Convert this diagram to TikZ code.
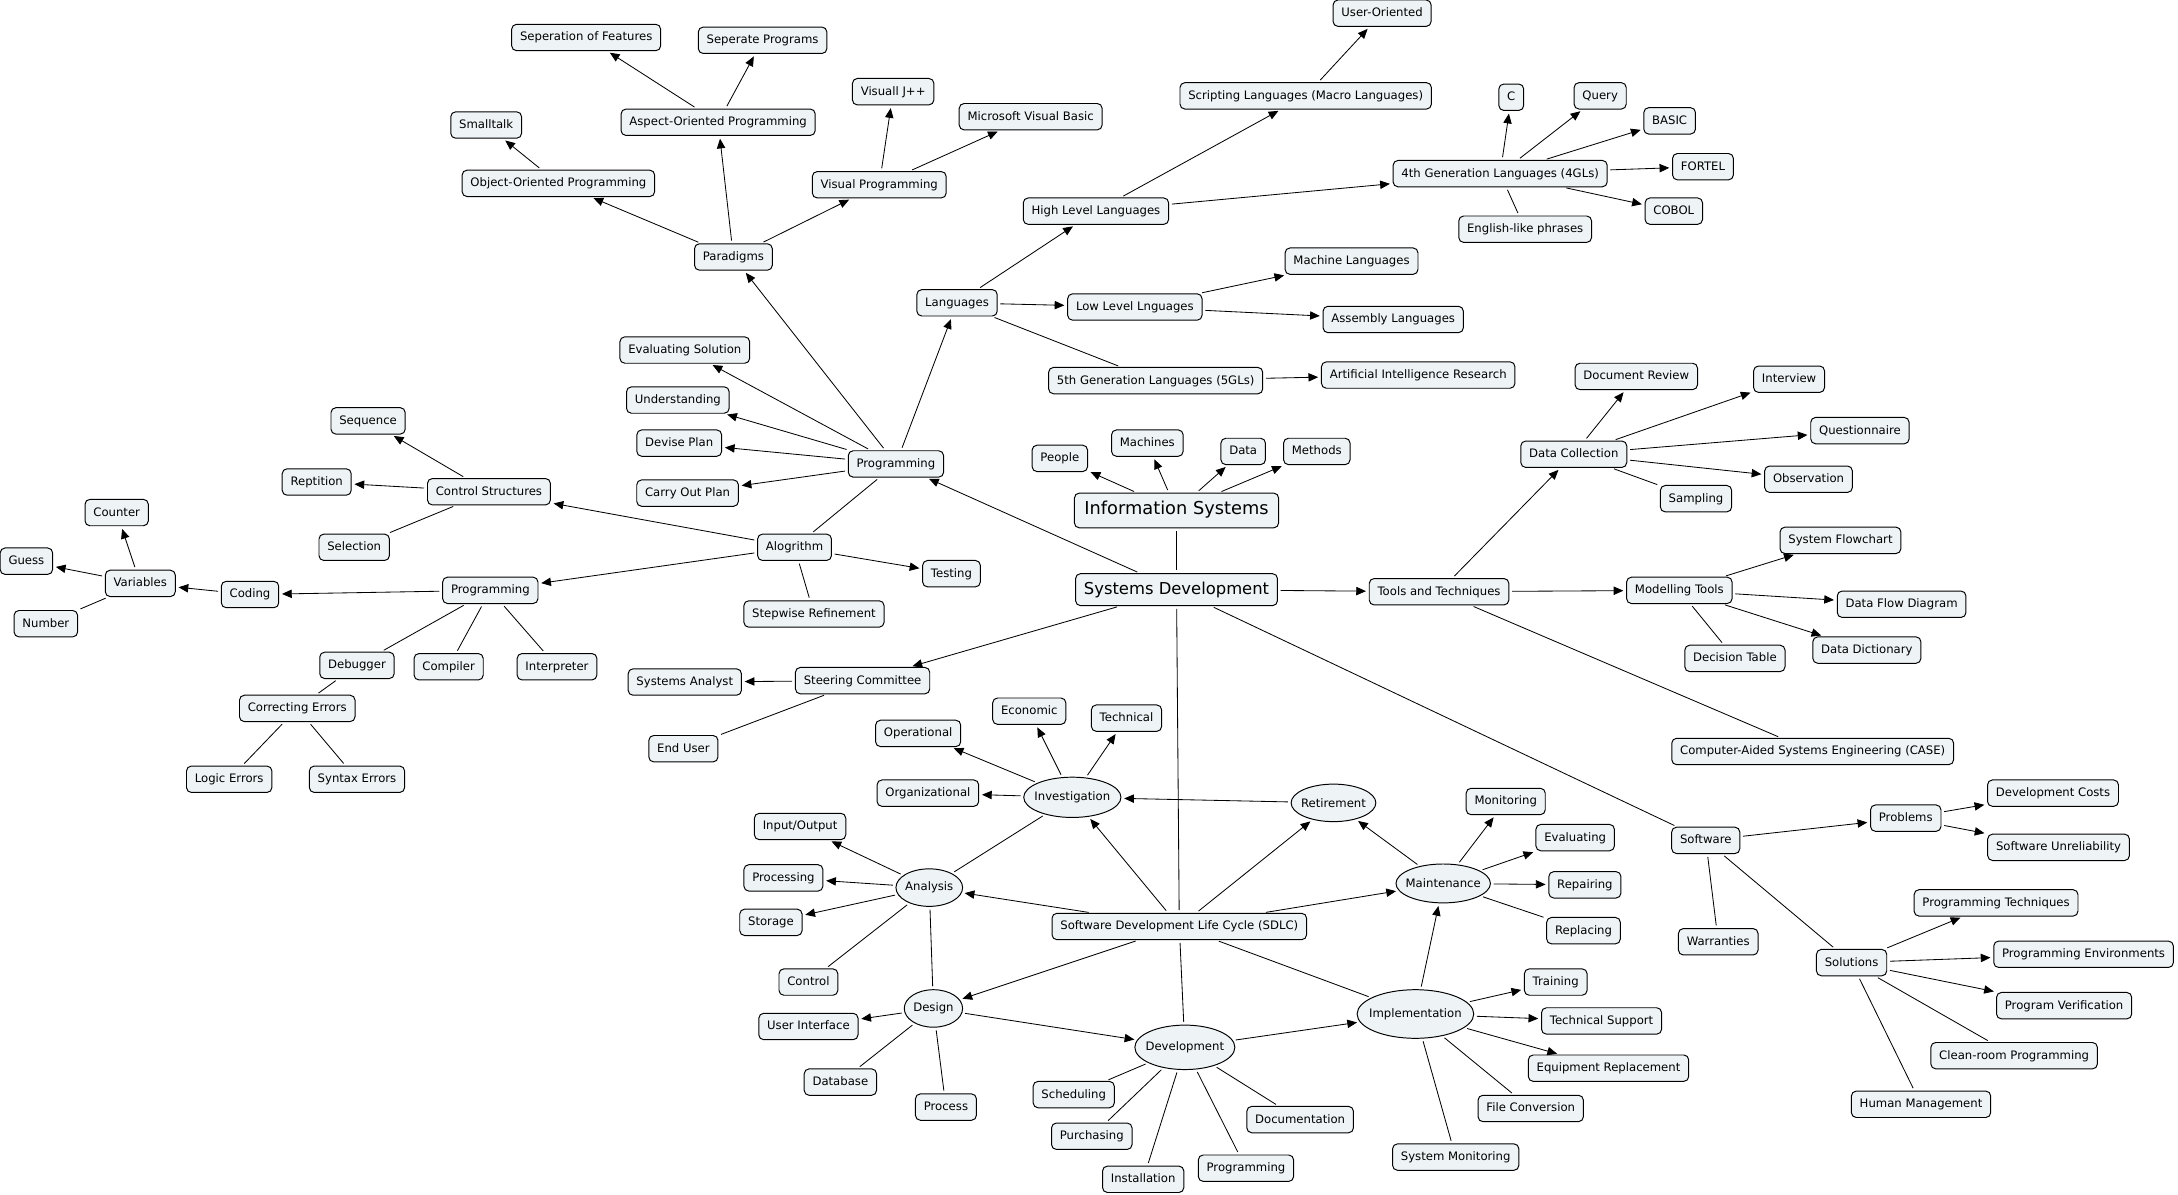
\documentclass[tikz,border=0pt]{standalone}
\usepackage{fontspec}
\setmainfont{DejaVu Sans}
\usetikzlibrary{arrows.meta,shapes.geometric}
\definecolor{boxfill}{RGB}{238,243,246}
\begin{document}
\begin{tikzpicture}[x=1pt,y=-1pt,
  box/.style={draw=black, line width=0.7pt, rounded corners=3.5pt, fill=boxfill, font=\fontsize{8.4}{10}\selectfont, inner xsep=6pt, inner ysep=0pt, text height=7pt, text depth=2pt, minimum height=19pt},
  big/.style={box, font=\fontsize{11.8}{14}\selectfont, minimum height=24pt, text height=9.5pt, text depth=3pt, inner xsep=6pt},
  oval/.style={draw=black, line width=0.7pt, ellipse, fill=boxfill, inner sep=0pt, font=\fontsize{8.4}{10}\selectfont},
  arr/.style={draw, line width=0.6pt, -{Triangle[length=7pt,width=6pt]}, shorten <=2pt, shorten >=2pt},
  ln/.style={draw, line width=0.6pt, shorten <=2pt, shorten >=2pt}]
\useasboundingbox (0,0) rectangle (1568,860);
% ---------- central ----------
\node[big, font=\fontsize{12.8}{15}\selectfont, minimum width=147pt, minimum height=25pt] (isys) at (847,367.5) {Information Systems};
\node[big, minimum height=23pt] (sysdev) at (847,424.5) {Systems Development};
\node[box] (people) at (763,330) {People};
\node[box] (machines) at (826,319) {Machines};
\node[box] (data) at (895,325) {Data};
\node[box] (methods) at (948,325) {Methods};
\node[box] (tools) at (1036,426) {Tools and Techniques};
% ---------- programming ----------
\node[box] (prog1) at (645,334) {Programming};
\node[box] (paradigms) at (528,185) {Paradigms};
\node[box] (oop) at (402,132) {Object-Oriented Programming};
\node[box] (aop) at (517,88) {Aspect-Oriented Programming};
\node[box] (vp) at (633,133) {Visual Programming};
\node[box] (smalltalk) at (350,90) {Smalltalk};
\node[box] (sepfeat) at (422,27) {Seperation of Features};
\node[box] (sepprog) at (549,29) {Seperate Programs};
\node[box] (vj) at (643,66) {Visuall J++};
\node[box] (msvb) at (742,84) {Microsoft Visual Basic};
\node[box] (langs) at (689,218) {Languages};
\node[box] (hll) at (789,152) {High Level Languages};
\node[box] (lll) at (817,221) {Low Level Lnguages};
\node[box] (gl5) at (832,274) {5th Generation Languages (5GLs)};
\node[box] (script) at (940,69) {Scripting Languages (Macro Languages)};
\node[box] (useror) at (995,9.5) {User-Oriented};
\node[box] (gl4) at (1080,125) {4th Generation Languages (4GLs)};
\node[box] (c) at (1088,70) {C};
\node[box] (query) at (1152,69) {Query};
\node[box] (basic) at (1202,87) {BASIC};
\node[box] (fortel) at (1226,120) {FORTEL};
\node[box] (cobol) at (1205,152) {COBOL};
\node[box] (english) at (1098,165) {English-like phrases};
\node[box] (machine) at (973,188) {Machine Languages};
\node[box] (assembly) at (1003,230) {Assembly Languages};
\node[box] (air) at (1021,270) {Artificial Intelligence Research};
\node[box] (evalsol) at (493,252) {Evaluating Solution};
\node[box] (underst) at (488,288) {Understanding};
\node[box] (devise) at (489,319) {Devise Plan};
\node[box] (carry) at (495,355) {Carry Out Plan};
\node[box] (algo) at (572,394) {Alogrithm};
\node[box] (testing) at (685,413) {Testing};
\node[box] (stepwise) at (586,442) {Stepwise Refinement};
\node[box] (ctrl) at (352,354) {Control Structures};
\node[box] (seq) at (265,303) {Sequence};
\node[box] (rep) at (228,347) {Reptition};
\node[box] (sel) at (255,394) {Selection};
\node[box] (prog2) at (353,425) {Programming};
\node[box] (coding) at (180,428) {Coding};
\node[box] (vars) at (101,420) {Variables};
\node[box] (counter) at (84,369) {Counter};
\node[box] (guess) at (19,404) {Guess};
\node[box] (number) at (33,449) {Number};
\node[box] (debug) at (257,479) {Debugger};
\node[box] (compiler) at (323,480) {Compiler};
\node[box] (interp) at (401,480) {Interpreter};
\node[box] (correct) at (214,510) {Correcting Errors};
\node[box] (logic) at (165,561) {Logic Errors};
\node[box] (syntax) at (257,561) {Syntax Errors};
\node[box] (steer) at (621,490) {Steering Committee};
\node[box] (analyst) at (493,491) {Systems Analyst};
\node[box] (enduser) at (492,539) {End User};
% ---------- tools ----------
\node[box] (datacol) at (1133,327) {Data Collection};
\node[box] (docrev) at (1178,271) {Document Review};
\node[box] (interview) at (1288,273) {Interview};
\node[box] (quest) at (1339,310) {Questionnaire};
\node[box] (observ) at (1302,345) {Observation};
\node[box] (sampling) at (1221,359) {Sampling};
\node[box] (model) at (1209,425) {Modelling Tools};
\node[box] (flowchart) at (1325,389) {System Flowchart};
\node[box] (dfd) at (1369,435) {Data Flow Diagram};
\node[box] (dd) at (1344,468) {Data Dictionary};
\node[box] (dectab) at (1249,474) {Decision Table};
\node[box] (case) at (1305,541) {Computer-Aided Systems Engineering (CASE)};
% ---------- SDLC ----------
\node[box] (sdlc) at (849,667) {Software Development Life Cycle (SDLC)};
\node[oval, minimum width=70pt, minimum height=29pt] (invest) at (772,574) {\makebox[0pt]{Investigation}};
\node[oval, minimum width=61pt, minimum height=27pt] (retire) at (960,578) {\makebox[0pt]{Retirement}};
\node[oval, minimum width=48pt, minimum height=27pt] (analysis) at (669,639) {\makebox[0pt]{Analysis}};
\node[oval, minimum width=42pt, minimum height=27pt] (design) at (672,726) {\makebox[0pt]{Design}};
\node[oval, minimum width=72pt, minimum height=32pt] (devel) at (853,754) {\makebox[0pt]{Development}};
\node[oval, minimum width=68pt, minimum height=28pt] (maint) at (1039,636) {\makebox[0pt]{Maintenance}};
\node[oval, minimum width=84pt, minimum height=35pt] (impl) at (1019,730) {\makebox[0pt]{Implementation}};
\node[box] (econ) at (741,512) {Economic};
\node[box] (tech) at (811,517) {Technical};
\node[box] (oper) at (661,528) {Operational};
\node[box] (org) at (668,571) {Organizational};
\node[box] (io) at (576,595) {Input/Output};
\node[box] (processing) at (564,632) {Processing};
\node[box] (storage) at (555,664) {Storage};
\node[box] (control) at (582,707) {Control};
\node[box] (ui) at (582,739) {User Interface};
\node[box] (database) at (605,779) {Database};
\node[box] (process) at (681,797) {Process};
\node[box] (sched) at (773,788) {Scheduling};
\node[box] (purch) at (786,818) {Purchasing};
\node[box] (install) at (823,849) {Installation};
\node[box] (prog3) at (897,841) {Programming};
\node[box] (docu) at (936,806) {Documentation};
\node[box] (monit) at (1084,577) {Monitoring};
\node[box] (evalu) at (1134,603) {Evaluating};
\node[box] (repair) at (1141,637) {Repairing};
\node[box] (replace) at (1140,670) {Replacing};
\node[box] (train) at (1120,707) {Training};
\node[box] (techsup) at (1153,735) {Technical Support};
\node[box] (equip) at (1158,769) {Equipment Replacement};
\node[box] (fileconv) at (1102,798) {File Conversion};
\node[box] (sysmon) at (1048,833) {System Monitoring};
% ---------- software ----------
\node[box] (software) at (1228,605) {Software};
\node[box] (problems) at (1372,589) {Problems};
\node[box] (devcost) at (1478,571) {Development Costs};
\node[box] (unrel) at (1482,610) {Software Unreliability};
\node[box] (warr) at (1237,678) {Warranties};
\node[box] (solutions) at (1333,693) {Solutions};
\node[box] (progtech) at (1437,650) {Programming Techniques};
\node[box] (progenv) at (1500,687) {Programming Environments};
\node[box] (progver) at (1486,724) {Program Verification};
\node[box] (clean) at (1450,760) {Clean-room Programming};
\node[box] (human) at (1383,795) {Human Management};
% ================= connectors =================
\path[arr] (isys) -- (people);
\path[arr] (isys) -- (machines);
\path[arr] (isys) -- (data);
\path[arr] (isys) -- (methods);
\path[ln] (isys) -- (sysdev);
\path[arr] (sysdev) -- (prog1);
\path[arr] (sysdev) -- (tools);
\path[arr] (sysdev) -- (steer);
\path[ln] (sysdev) -- (sdlc);
\path[ln] (sysdev) -- (software);
% programming
\path[arr] (prog1) -- (paradigms);
\path[arr] (prog1) -- (langs);
\path[arr] (prog1) -- (evalsol);
\path[arr] (prog1) -- (underst);
\path[arr] (prog1) -- (devise);
\path[arr] (prog1) -- (carry);
\path[ln] (prog1) -- (algo);
\path[arr] (paradigms) -- (oop);
\path[arr] (paradigms) -- (aop);
\path[arr] (paradigms) -- (vp);
\path[arr] (oop) -- (smalltalk);
\path[arr] (aop) -- (sepfeat);
\path[arr] (aop) -- (sepprog);
\path[arr] (vp) -- (vj);
\path[arr] (vp) -- (msvb);
\path[arr] (langs) -- (hll);
\path[arr] (langs) -- (lll);
\path[ln] (langs) -- (gl5);
\path[arr] (hll) -- (script);
\path[arr] (hll) -- (gl4);
\path[arr] (script) -- (useror);
\path[arr] (gl4) -- (c);
\path[arr] (gl4) -- (query);
\path[arr] (gl4) -- (basic);
\path[arr] (gl4) -- (fortel);
\path[arr] (gl4) -- (cobol);
\path[ln] (gl4) -- (english);
\path[arr] (lll) -- (machine);
\path[arr] (lll) -- (assembly);
\path[arr] (gl5) -- (air);
\path[arr] (algo) -- (ctrl);
\path[arr] (algo) -- (prog2);
\path[arr] (algo) -- (testing);
\path[ln] (algo) -- (stepwise);
\path[arr] (ctrl) -- (seq);
\path[arr] (ctrl) -- (rep);
\path[ln] (ctrl) -- (sel);
\path[arr] (prog2) -- (coding);
\path[ln] (prog2) -- (debug);
\path[ln] (prog2) -- (compiler);
\path[ln] (prog2) -- (interp);
\path[arr] (coding) -- (vars);
\path[arr] (vars) -- (counter);
\path[arr] (vars) -- (guess);
\path[ln] (vars) -- (number);
\path[ln] (debug) -- (correct);
\path[ln] (correct) -- (logic);
\path[ln] (correct) -- (syntax);
\path[arr] (steer) -- (analyst);
\path[ln] (steer) -- (enduser);
% tools
\path[arr] (tools) -- (datacol);
\path[arr] (tools) -- (model);
\path[ln] (tools) -- (case);
\path[arr] (datacol) -- (docrev);
\path[arr] (datacol) -- (interview);
\path[arr] (datacol) -- (quest);
\path[arr] (datacol) -- (observ);
\path[ln] (datacol) -- (sampling);
\path[arr] (model) -- (flowchart);
\path[arr] (model) -- (dfd);
\path[arr] (model) -- (dd);
\path[ln] (model) -- (dectab);
% SDLC
\path[arr] (sdlc) -- (invest);
\path[arr] (sdlc) -- (retire);
\path[arr] (sdlc) -- (analysis);
\path[arr] (sdlc) -- (maint);
\path[arr] (sdlc) -- (design);
\path[ln] (sdlc) -- (devel);
\path[ln] (sdlc) -- (impl);
\path[arr] (invest) -- (oper);
\path[arr] (invest) -- (econ);
\path[arr] (invest) -- (tech);
\path[arr] (invest) -- (org);
\path[ln] (invest) -- (analysis);
\path[arr] (retire) -- (invest);
\path[arr] (maint) -- (retire);
\path[arr] (maint) -- (monit);
\path[arr] (maint) -- (evalu);
\path[arr] (maint) -- (repair);
\path[ln] (maint) -- (replace);
\path[arr] (impl) -- (maint);
\path[arr] (impl) -- (train);
\path[arr] (impl) -- (techsup);
\path[arr] (impl) -- (equip);
\path[ln] (impl) -- (fileconv);
\path[ln] (impl) -- (sysmon);
\path[arr] (devel) -- (impl);
\path[arr] (design) -- (devel);
\path[arr] (design) -- (ui);
\path[ln] (design) -- (database);
\path[ln] (design) -- (process);
\path[arr] (analysis) -- (io);
\path[arr] (analysis) -- (processing);
\path[arr] (analysis) -- (storage);
\path[ln] (analysis) -- (control);
\path[ln] (analysis) -- (design);
\path[ln] (devel) -- (sched);
\path[ln] (devel) -- (purch);
\path[ln] (devel) -- (install);
\path[ln] (devel) -- (prog3);
\path[ln] (devel) -- (docu);
% software
\path[arr] (software) -- (problems);
\path[ln] (software) -- (warr);
\path[ln] (software) -- (solutions);
\path[arr] (problems) -- (devcost);
\path[arr] (problems) -- (unrel);
\path[arr] (solutions) -- (progtech);
\path[arr] (solutions) -- (progenv);
\path[arr] (solutions) -- (progver);
\path[ln] (solutions) -- (clean);
\path[ln] (solutions) -- (human);
\end{tikzpicture}
\end{document}
